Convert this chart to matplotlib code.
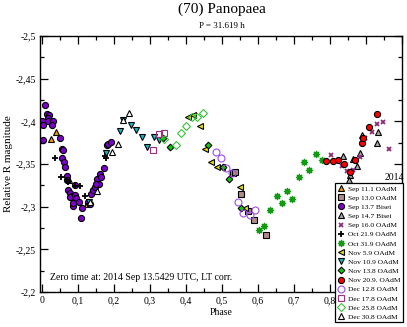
import numpy as np
import matplotlib
matplotlib.use("Agg")
import matplotlib.pyplot as plt
from matplotlib.ticker import MultipleLocator, FuncFormatter

plt.rcParams['font.family'] = ['Liberation Serif', 'DejaVu Serif']

# ---- data: (phase, relative R magnitude) per night ----
sep11_phase = [0.024, 0.039, 0.075, 0.126]
sep11_mag = [-2.379, -2.387, -2.331, -2.303]

sep13_phase = [0.531, 0.535, 0.554, 0.573, 0.590, 0.622]
sep13_mag = [-2.340, -2.341, -2.315, -2.295, -2.284, -2.267]

sep137_phase = [0.008, 0.013, 0.020, 0.018, 0.000, 0.016, 0.031, 0.004, 0.027, 0.002,
                0.050, 0.055, 0.059, 0.056, 0.061, 0.064, 0.069, 0.070, 0.073, 0.078,
                0.083, 0.078, 0.092, 0.094, 0.087, 0.085, 0.093, 0.104, 0.110, 0.108,
                0.133, 0.129, 0.135, 0.141, 0.148, 0.154, 0.160, 0.165, 0.158, 0.151,
                0.173, 0.180, 0.184, 0.192]
sep137_mag = [-2.419, -2.409, -2.407, -2.404, -2.400, -2.400, -2.400, -2.396, -2.396, -2.378,
              -2.381, -2.368, -2.366, -2.357, -2.352, -2.347, -2.336, -2.331, -2.319, -2.316,
              -2.312, -2.311, -2.314, -2.310, -2.301, -2.304, -2.325, -2.305, -2.298, -2.287,
              -2.303, -2.306, -2.315, -2.319, -2.323, -2.332, -2.338, -2.335, -2.327, -2.327,
              -2.345, -2.372, -2.374, -2.376]

sep14_phase = [0.837, 0.863, 0.883, 0.874, 0.888, 0.930, 0.933, 0.856, 0.854]
sep14_mag = [-2.359, -2.356, -2.363, -2.348, -2.384, -2.375, -2.388, -2.337, -2.331]

sep16_phase = [0.802, 0.834, 0.848, 0.863, 0.883, 0.897, 0.916, 0.931, 0.946, 0.965]
sep16_mag = [-2.360, -2.348, -2.342, -2.343, -2.358, -2.381, -2.388, -2.397, -2.399, -2.367]

oct21_phase = [0.036, 0.053, 0.069, 0.073, 0.092, 0.106, 0.119, 0.129, 0.175, 0.178]
oct21_mag = [-2.357, -2.335, -2.331, -2.329, -2.324, -2.324, -2.312, -2.303, -2.359, -2.357]

oct31_phase = [0.604, 0.618, 0.633, 0.654, 0.666, 0.681, 0.695, 0.713, 0.728, 0.743, 0.761, 0.777]
oct31_mag = [-2.273, -2.277, -2.296, -2.312, -2.304, -2.318, -2.309, -2.335, -2.352, -2.343, -2.362, -2.355]

nov5_phase = [0.406, 0.420, 0.439, 0.453, 0.469, 0.487, 0.501, 0.549, 0.564]
nov5_mag = [-2.405, -2.407, -2.395, -2.368, -2.352, -2.346, -2.347, -2.323, -2.299]

nov10_phase = [0.131, 0.179, 0.218, 0.246, 0.261, 0.277, 0.292, 0.310, 0.324, 0.226]
nov10_mag = [-2.305, -2.363, -2.389, -2.396, -2.390, -2.382, -2.370, -2.382, -2.378, -2.401]

nov13_phase = [0.337, 0.356, 0.462, 0.503, 0.520, 0.554]
nov13_mag = [-2.380, -2.370, -2.372, -2.347, -2.332, -2.299]

nov20_phase = [0.790, 0.807, 0.823, 0.840, 0.856, 0.869, 0.888, 0.891, 0.909, 0.930]
nov20_mag = [-2.354, -2.353, -2.355, -2.350, -2.341, -2.355, -2.375, -2.380, -2.393, -2.409]

dec12_phase = [0.482, 0.497, 0.511, 0.527, 0.544, 0.559, 0.578, 0.592]
dec12_mag = [-2.364, -2.357, -2.345, -2.339, -2.306, -2.293, -2.290, -2.296]

dec17_phase = [0.309, 0.325, 0.339]
dec17_mag = [-2.366, -2.385, -2.386]

dec25_phase = [0.339, 0.372, 0.386, 0.401, 0.416, 0.430, 0.448]
dec25_mag = [-2.379, -2.372, -2.386, -2.395, -2.405, -2.405, -2.410]

dec30_phase = [0.243, 0.226, 0.212, 0.194, 0.152, 0.133]
dec30_mag = [-2.410, -2.402, -2.374, -2.364, -2.318, -2.305]

# (label, phase, mag, marker, face, edge, size)
series = [
    ("Sep 11.1 OAdM", sep11_phase, sep11_mag, "^", "#f09a00", "black", 4.2),
    ("Sep 13.0 OAdM", sep13_phase, sep13_mag, "s", "#b08a8a", "black", 3.8),
    ("Sep 13.7 Bisei", sep137_phase, sep137_mag, "o", "#7d00cc", "black", 4.4),
    ("Sep 14.7 Bisei", sep14_phase, sep14_mag, "^", "#a8a8a8", "black", 4.4),
    ("Sep 16.0 OAdM", sep16_phase, sep16_mag, "x", "#8b2c7a", "#8b2c7a", 3.2),
    ("Oct 21.9 OAdM", oct21_phase, oct21_mag, "+", "black", "black", 4.5),
    ("Oct 31.9 OAdM", oct31_phase, oct31_mag, (8, 1, 0), "#129a12", "#129a12", 5.0),
    ("Nov 5.9 OAdM", nov5_phase, nov5_mag, "<", "#e6e000", "black", 4.2),
    ("Nov 10.9 OAdM", nov10_phase, nov10_mag, "v", "#1ab8c4", "black", 4.4),
    ("Nov 13.8 OAdM", nov13_phase, nov13_mag, "D", "#10c810", "black", 3.4),
    ("Nov 20.9. OAdM", nov20_phase, nov20_mag, "o", "#ff0000", "black", 4.4),
    ("Dec 12.8 OAdM", dec12_phase, dec12_mag, "o", "none", "#9d4ee6", 5.0),
    ("Dec 17.8 OAdM", dec17_phase, dec17_mag, "s", "none", "#a0307e", 4.4),
    ("Dec 25.8 OAdM", dec25_phase, dec25_mag, "D", "none", "#3cbf3c", 3.6),
    ("Dec 30.8 OAdM", dec30_phase, dec30_mag, "^", "white", "black", 4.4),
]

fig = plt.figure(figsize=(4.07, 3.27), dpi=100)
ax = fig.add_axes([40 / 407, 1 - 292 / 327, 362 / 407, 256 / 327])

handles = []
for label, ph, mg, mk, fc, ec, ms in series:
    lw = 1.3 if mk in ("+", "x") else 0.8
    h, = ax.plot(ph, mg, ls="none", marker=mk, markersize=ms,
                 markerfacecolor=fc, markeredgecolor=ec, markeredgewidth=lw,
                 label=label)
    handles.append(h)

ax.set_xlim(-0.0056, 1.0)
ax.set_ylim(-2.2, -2.5)

comma = FuncFormatter(lambda v, p: ("%g" % round(v, 3)).replace(".", ","))
ax.xaxis.set_major_locator(MultipleLocator(0.1))
ax.xaxis.set_minor_locator(MultipleLocator(0.05))
ax.yaxis.set_major_locator(MultipleLocator(0.05))
ax.yaxis.set_minor_locator(MultipleLocator(0.025))
ax.xaxis.set_major_formatter(comma)
ax.yaxis.set_major_formatter(comma)
ax.tick_params(which="both", direction="in", top=True, right=True,
               labelsize=7, width=0.9, pad=3)
ax.tick_params(which="major", length=6)
ax.tick_params(which="minor", length=3)
for s in ax.spines.values():
    s.set_linewidth(1.0)

ax.set_xlabel("Phase", fontsize=7, labelpad=2)
ax.set_ylabel("Relative R magnitude", fontsize=8, labelpad=2)

fig.text(222 / 407, 1 - 9 / 327, "(70) Panopaea", ha="center", va="center", fontsize=11)
fig.text(222 / 407, 1 - 26 / 327, "P = 31.619 h", ha="center", va="center", fontsize=6.5)
ax.text(0.028, 0.04, "Zero time at: 2014 Sep 13.5429 UTC, LT corr.",
        transform=ax.transAxes, fontsize=7, ha="left", va="bottom")

leg = fig.legend(handles=handles, loc="upper left",
                 bbox_to_anchor=(335 / 407, 1 - 183 / 327), fontsize=5.4,
                 frameon=True, fancybox=False, edgecolor="black",
                 borderpad=0.3, labelspacing=0.39, handlelength=1.0,
                 handletextpad=0.5, borderaxespad=0, numpoints=1)
leg.get_frame().set_linewidth(0.9)
leg.get_frame().set_alpha(1)
leg.set_zorder(10)
fig.text(404 / 407, 1 - 177 / 327, "2014", ha="right", va="center", fontsize=7)

fig.savefig("out.png", dpi=100)
